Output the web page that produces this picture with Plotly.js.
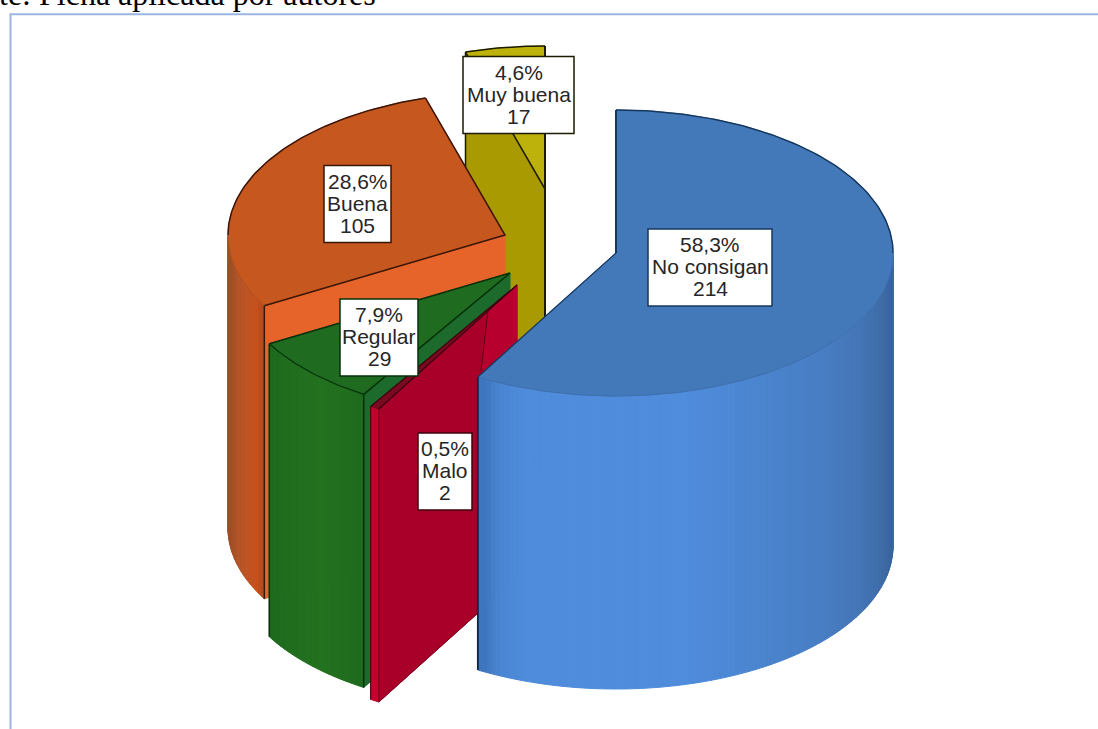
<!DOCTYPE html>
<html>
<head>
<meta charset="utf-8">
<script src="https://cdn.plot.ly/plotly-3.0.1.min.js"></script>
<style>html,body{margin:0;padding:0;background:#fff;overflow:hidden}#chart{width:1098px;height:729px}</style>
</head>
<body>
<div id="chart"></div>
<script>
// Survey answers, in clockwise order starting at twelve o'clock
const categories = ['No consigan', 'Malo', 'Regular', 'Buena', 'Muy buena'];
const counts = [214, 2, 29, 105, 17];

// Exploded centre of each slice and the cylinder's projection
const centres = [[616, 253], [517, 285], [510, 273], [505, 235], [545, 189]];
const RX = 277, RY = 143, DEPTH = 293;

// Label box centres and widths
const boxX = [710, 445, 379, 357.5, 518.5];
const boxY = [267.5, 471.5, 337.5, 204, 95];
const boxW = [124, 54, 78, 67, 111];
const BOX_H = 77;

const palette = {
  top:  ['#4479b9', '#7a0a20', '#1f6c20', '#c5571f', '#bdb20c'],
  face: ['#4479b9', '#a80028', '#1c6a2c', '#e6642a', '#a99a02'],
  edge: ['#16385f', '#3d0010', '#06300a', '#3a1606', '#1c1a00']
};

const total = counts.reduce((s, v) => s + v, 0);
const shares = counts.map(v => v / total);
const starts = [];
shares.reduce((acc, s, i) => { starts[i] = acc; return acc + s * 360; }, 0);
const ends = starts.map((a, i) => a + shares[i] * 360);

const rad = d => d * Math.PI / 180;
const rim = (c, deg) => [c[0] + RX * Math.sin(rad(deg)), c[1] - RY * Math.cos(rad(deg))];
const sweep = (a, b, step = 1) => {
  const out = [];
  const n = Math.max(2, Math.ceil(Math.abs(b - a) / step));
  for (let i = 0; i <= n; i++) out.push(a + (b - a) * i / n);
  return out;
};

const traces = [];
const poly = (pts, fill, line, width) => traces.push({
  type: 'scatter', mode: 'lines', x: pts.map(p => p[0]), y: pts.map(p => p[1]),
  fill: 'toself', fillcolor: fill, hoverinfo: 'skip', showlegend: false,
  line: {color: line || fill, width: width === undefined ? 1 : width, shape: 'linear'}
});
const stroke = (pts, color, width) => traces.push({
  type: 'scatter', mode: 'lines', x: pts.map(p => p[0]), y: pts.map(p => p[1]),
  hoverinfo: 'skip', showlegend: false, line: {color, width}
});
const down = p => [p[0], p[1] + DEPTH];

// Top sector of a slice
function topFace(i) {
  const arc = sweep(starts[i], ends[i]).map(a => rim(centres[i], a));
  poly([centres[i], ...arc, centres[i]], palette.top[i]);
  return arc;
}
// Radial cut wall hanging from the edge at the given angle
function cutFace(i, deg) {
  const c = centres[i], r = rim(c, deg);
  poly([c, r, down(r), down(c), c], palette.face[i]);
}
// Outer wall built from thin vertical strips
function outerWall(i, a, b, colourAt, step) {
  const angles = sweep(a, b, step);
  for (let k = 0; k < angles.length - 1; k++) {
    const p = rim(centres[i], angles[k]), q = rim(centres[i], angles[k + 1]);
    poly([p, q, down(q), down(p), p], colourAt((p[0] + q[0]) / 2));
  }
}
// Shading ramp along the horizontal position
const ramp = stops => x => {
  if (x <= stops[0][0]) return `rgb(${stops[0][1].join(',')})`;
  for (let k = 1; k < stops.length; k++) {
    if (x <= stops[k][0]) {
      const t = (x - stops[k - 1][0]) / (stops[k][0] - stops[k - 1][0]);
      const mix = stops[k - 1][1].map((v, j) => Math.round(v + (stops[k][1][j] - v) * t));
      return `rgb(${mix.join(',')})`;
    }
  }
  return `rgb(${stops[stops.length - 1][1].join(',')})`;
};

// Muy buena (rear)
{
  const i = 4, c = centres[i], a = rim(c, starts[i]), e = rim(c, 360);
  cutFace(i, starts[i]);
  topFace(i);
  stroke([a, c], palette.edge[i], 1.5);
  stroke(sweep(starts[i], 360).map(d => rim(c, d)), palette.edge[i], 1.5);
  stroke([a, down(a)], palette.edge[i], 1.5);
  stroke([e, down(c)], palette.edge[i], 2);
}
// Buena
{
  const i = 3, c = centres[i], a = rim(c, starts[i]), b = rim(c, ends[i]);
  outerWall(i, starts[i], 270, ramp([
    [230, [160, 78, 38]], [238, [178, 84, 40]], [246, [190, 84, 36]],
    [256, [198, 80, 28]], [262, [180, 76, 30]], [267, [160, 72, 30]]
  ]), 1);
  cutFace(i, starts[i]);
  topFace(i);
  stroke(sweep(270, ends[i]).map(d => rim(c, d)), palette.edge[i], 1.5);
  stroke(sweep(starts[i], 270).map(d => rim(c, d)), '#b04e1c', 1);
  stroke([a, c, b], palette.edge[i], 1.5);
  stroke([a, down(a)], palette.edge[i], 1.5);
}
// Regular
{
  const i = 2, c = centres[i], a = rim(c, starts[i]), b = rim(c, ends[i]);
  outerWall(i, starts[i], ends[i], ramp([[270, [30, 106, 30]], [320, [35, 114, 31]], [365, [31, 106, 30]]]), 1.5);
  cutFace(i, starts[i]);
  topFace(i);
  stroke(sweep(starts[i], ends[i]).map(d => rim(c, d)), palette.edge[i], 1.2);
  stroke([b, c, a], palette.edge[i], 1.5);
  stroke([b, down(b)], palette.edge[i], 1.5);
  stroke([a, down(a)], palette.edge[i], 1.5);
}
// Malo
{
  const i = 1, c = centres[i], a = rim(c, starts[i]), b = rim(c, ends[i]);
  outerWall(i, starts[i], ends[i], () => '#c4002c', 1);
  cutFace(i, starts[i]);
  // brighter upper corner of the face, split off by a thin seam
  const t = 0.21, seamTop = [c[0] + (a[0] - c[0]) * t, c[1] + (a[1] - c[1]) * t];
  const seamEnd = [seamTop[0] - 7, seamTop[1] + 60];
  poly([c, seamTop, seamEnd, [c[0], seamEnd[1] - 30], c], '#b8002e');
  stroke([seamTop, seamEnd], '#5a0014', 1);
  topFace(i);
  stroke([b, c, a], palette.edge[i], 1.2);
  stroke([a, down(a)], '#7a001c', 1);
  stroke([b, down(b)], palette.edge[i], 1);
  stroke([down(a), down(c)], '#7a001c', 1);
}
// No consigan (front)
{
  const i = 0, c = centres[i], a = rim(c, starts[i]), b = rim(c, ends[i]);
  outerWall(i, 90, ends[i], ramp([
    [484, [62, 118, 190]], [500, [74, 134, 210]], [530, [79, 140, 220]], [680, [79, 140, 220]],
    [740, [76, 135, 211]], [780, [74, 130, 202]], [820, [72, 126, 196]], [860, [68, 117, 182]],
    [880, [62, 108, 168]], [893, [56, 100, 155]]
  ]), 1);
  topFace(i);
  stroke(sweep(90, ends[i]).map(d => rim(c, d)), '#3f70b0', 1);
  stroke(sweep(0, 90).map(d => rim(c, d)), palette.edge[i], 1.5);
  stroke([a, c], palette.edge[i], 2);
  stroke([c, b], palette.edge[i], 1.2);
  stroke([b, down(b)], '#10263f', 1.8);
}

// White value boxes and their three text lines
const fmtPct = s => (s * 100).toFixed(1).replace('.', ',') + '%';
const shapes = categories.map((_, i) => ({
  type: 'rect', xref: 'x', yref: 'y', layer: 'above',
  x0: boxX[i] - boxW[i] / 2, x1: boxX[i] + boxW[i] / 2,
  y0: boxY[i] - BOX_H / 2, y1: boxY[i] + BOX_H / 2,
  fillcolor: '#ffffff', line: {color: palette.edge[i], width: 1.5}
}));
// Frame around the figure
shapes.push({type: 'rect', xref: 'x', yref: 'y', layer: 'below', x0: 10.5, x1: 1200, y0: 14.3, y1: 800,
  fillcolor: 'rgba(0,0,0,0)', line: {color: '#9db5e2', width: 2}});

const annotations = [];
categories.forEach((name, i) => {
  [fmtPct(shares[i]), name, String(counts[i])].forEach((txt, k) => {
    annotations.push({
      xref: 'x', yref: 'y', x: boxX[i], y: boxY[i] + (k - 1) * 22 - 1, text: txt, showarrow: false,
      xanchor: 'center', yanchor: 'middle',
      font: {family: '"Liberation Sans", Arial, sans-serif', size: 21, color: '#262626'}
    });
  });
});
annotations.push({
  xref: 'x', yref: 'y', x: 378, y: 3.5, text: 'te: Ficha aplicada por autores', showarrow: false,
  xanchor: 'right', yanchor: 'middle', yshift: 10,
  font: {family: '"Liberation Serif", "Times New Roman", serif', size: 32, color: '#000'}
});

Plotly.newPlot('chart', traces, {
  width: 1098, height: 729, margin: {l: 0, r: 0, t: 0, b: 0},
  paper_bgcolor: '#fff', plot_bgcolor: '#fff', showlegend: false,
  xaxis: {range: [0, 1098], visible: false, fixedrange: true},
  yaxis: {range: [729, 0], visible: false, fixedrange: true},
  shapes, annotations
}, {displayModeBar: false, staticPlot: true});
</script>
</body>
</html>
